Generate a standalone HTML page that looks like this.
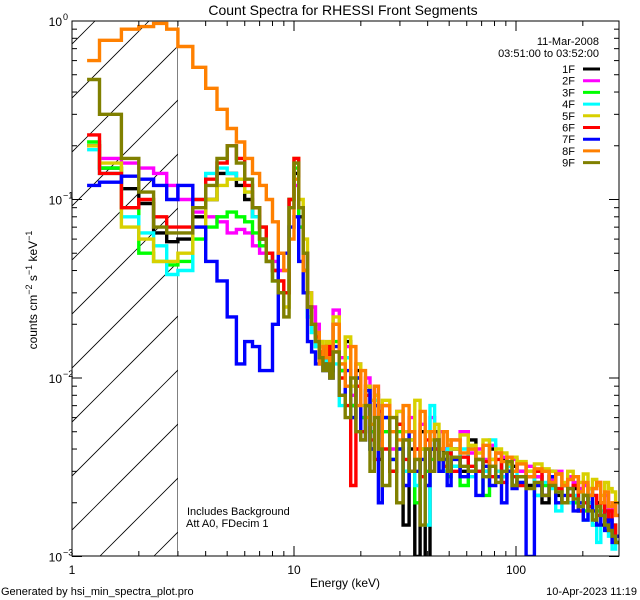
<!DOCTYPE html>
<html><head><meta charset="utf-8"><style>
html,body{margin:0;padding:0;background:#fff;}
svg{display:block;font-family:"Liberation Sans",sans-serif;}
</style></head><body>
<svg id="chart" width="640" height="600" viewBox="0 0 640 600">
<rect x="0" y="0" width="640" height="600" fill="#fff"/>
<text x="343" y="15" font-size="14" text-anchor="middle">Count Spectra for RHESSI Front Segments</text>
<g id="hatch"></g>
<g id="series"></g>
<g id="axes"></g>
<text transform="translate(37,290) rotate(-90)" font-size="12" text-anchor="middle">counts cm<tspan dy="-5" font-size="9">−2</tspan><tspan dy="5"> s</tspan><tspan dy="-5" font-size="9">−1</tspan><tspan dy="5"> keV</tspan><tspan dy="-5" font-size="9">−1</tspan></text>
<text x="345" y="587" font-size="12" text-anchor="middle">Energy (keV)</text>
<text x="599" y="45" font-size="11" text-anchor="end">11-Mar-2008</text>
<text x="599" y="57" font-size="11" text-anchor="end">03:51:00 to 03:52:00</text>
<g id="legend"></g>
<text x="187" y="515" font-size="11">Includes Background</text>
<text x="186" y="527" font-size="11">Att A0, FDecim 1</text>
<text x="1" y="595" font-size="11">Generated by hsi_min_spectra_plot.pro</text>
<text x="637" y="595" font-size="11" text-anchor="end">10-Apr-2023 11:19</text>
</svg>
<script>
// ---- data ----
const lowEdges = [1.17,1.33,1.67,2,2.33,2.67,3];
const seriesNames = ["1F","2F","3F","4F","5F","6F","7F","8F","9F"];
const seriesColors = ["#000000","#ff00ff","#00ff00","#00ffff","#d8d000","#ff0000","#0000ff","#ff8000","#808000"];
const yTickValues = [1,0.1,0.01,0.001];
const yTickLabels = ["0","−1","−2","−3"];
const xTickValues = [1,10,100];
const xTickLabels = ["1","10","100"];
const low1 = [.2,.15,.115,.095,.065,.058];
const mid1 = [.06,.08,.1,.14,.14,.12,.1,.08,.06,.05,.04,.03,.03,.1,.14,.08,.04,.025,.02,.016,.014,.012,.013,.011];
const high1 = [.02,.011,.016,.007,.011,.005,.009,.004,.008,.0035,.006,.003,.0055,.0015,.004,.001,.005,.0009,.004,.005,.0035,.004,.003,.004,.003,.0045,.0035,.003,.004,.0028,.0035,.003,.0032,.003,.0025,.0028,.002,.003,.0022,.0025,.002,.0024,.0018,.0022,.002,.0016,.002,.0015,.0018,.0014,.0013,.0012];
const low2 = [.2,.17,.16,.15,.14,.12];
const mid2 = [.1,.085,.08,.075,.065,.068,.065,.055,.05,.045,.045,.04,.04,.09,.12,.07,.05,.03,.025,.02,.016,.015,.013,.014];
const high2 = [.024,.013,.015,.008,.012,.006,.01,.005,.009,.005,.007,.004,.0065,.0045,.006,.004,.0055,.004,.006,.0045,.005,.004,.0042,.0045,.005,.0038,.004,.0035,.0042,.0038,.0036,.0033,.0035,.003,.0032,.0028,.003,.0027,.003,.0025,.0028,.0026,.0024,.0025,.0022,.0024,.0026,.002,.0022,.0018,.0019,.0017];
const low3 = [.21,.15,.09,.05,.045,.043];
const mid3 = [.045,.06,.07,.08,.085,.08,.075,.065,.055,.045,.035,.03,.03,.1,.15,.07,.04,.022,.018,.015,.014,.012,.013,.011];
const high3 = [.016,.011,.013,.007,.01,.006,.007,.005,.007,.0045,.005,.0035,.005,.003,.0045,.002,.004,.003,.0035,.004,.003,.0035,.0028,.0032,.0025,.004,.003,.0022,.0035,.003,.0028,.0032,.0025,.0028,.003,.0022,.0025,.0028,.002,.0025,.0022,.002,.0023,.0018,.0024,.0015,.0018,.002,.0016,.0014,.0015,.0012];
const low4 = [.19,.14,.08,.065,.055,.038];
const mid4 = [.04,.1,.14,.15,.14,.13,.11,.08,.07,.05,.04,.03,.03,.1,.16,.09,.05,.022,.018,.015,.013,.012,.014,.012];
const high4 = [.012,.007,.013,.006,.009,.005,.0085,.004,.0075,.0045,.006,.0035,.004,.003,.0045,.0025,.004,.0015,.007,.004,.0035,.003,.004,.0032,.004,.0028,.0035,.003,.0045,.003,.0028,.0032,.003,.0026,.0028,.0022,.0026,.0024,.0018,.0025,.002,.0022,.0018,.0016,.002,.0015,.0012,.0018,.0014,.0013,.0011,.0012];
const low5 = [.2,.16,.07,.06,.045,.045];
const mid5 = [.05,.07,.1,.12,.13,.13,.11,.09,.07,.05,.04,.035,.025,.1,.17,.1,.06,.03,.02,.018,.016,.015,.016,.014];
const high5 = [.022,.012,.017,.009,.012,.007,.009,.0075,.008,.006,.0075,.006,.0065,.005,.0045,.0075,.004,.005,.0045,.0055,.004,.005,.0045,.004,.0048,.0042,.0038,.0045,.0035,.004,.0038,.0033,.0036,.0034,.003,.0033,.0031,.003,.0029,.0026,.003,.0028,.0026,.0029,.0024,.0027,.0025,.0022,.0026,.0024,.0023,.002];
const low6 = [.23,.14,.09,.1,.08,.07];
const mid6 = [.07,.1,.13,.16,.2,.17,.12,.09,.07,.05,.04,.035,.03,.1,.17,.09,.05,.025,.02,.017,.014,.013,.015,.012];
const high6 = [.014,.01,.007,.0025,.009,.005,.008,.0045,.0035,.0065,.004,.003,.0055,.0035,.003,.004,.0028,.0045,.003,.004,.0035,.0032,.0038,.003,.0036,.0032,.003,.0034,.0028,.0035,.0026,.003,.0028,.0025,.0028,.003,.0022,.0026,.0024,.002,.0022,.0025,.0018,.002,.0019,.0022,.0017,.002,.0016,.0018,.0015,.0013];
const low7 = [.12,.125,.135,.13,.12,.1];
const mid7 = [.12,.07,.045,.035,.022,.012,.016,.015,.011,.011,.02,.05,.05,.07,.08,.045,.03,.016,.014,.012,.012,.011,.012,.01];
const high7 = [.015,.008,.011,.006,.01,.0045,.0085,.004,.007,.002,.006,.0035,.004,.0025,.005,.003,.0035,.0025,.004,.0045,.003,.0035,.0025,.0035,.0028,.003,.0022,.0032,.0025,.0028,.002,.003,.0024,.0026,.001,.0025,.0022,.0028,.002,.0022,.0024,.0018,.002,.0016,.0022,.0018,.0015,.0017,.0014,.0016,.0012,.0013];
const low8 = [.6,.78,.9,.93,.97,.9];
const mid8 = [.72,.55,.42,.32,.25,.21,.17,.14,.12,.1,.075,.05,.04,.06,.13,.09,.04,.025,.02,.018,.012,.015,.013,.012];
const high8 = [.02,.012,.009,.015,.007,.011,.006,.0055,.009,.004,.007,.005,.0045,.007,.005,.0035,.0065,.004,.005,.0045,.004,.005,.0042,.0045,.0038,.004,.0035,.0042,.0032,.0038,.0034,.0036,.003,.0033,.0028,.0031,.003,.0026,.0029,.0025,.0027,.0028,.0023,.0026,.0022,.0024,.0026,.002,.0023,.0019,.002,.0017];
const low9 = [.47,.3,.17,.11,.07,.065];
const mid9 = [.065,.09,.12,.17,.2,.16,.13,.09,.06,.045,.035,.03,.022,.09,.16,.09,.05,.025,.02,.016,.013,.011,.012,.01];
const high9 = [.014,.008,.006,.01,.005,.0045,.007,.003,.006,.004,.0025,.006,.002,.0045,.003,.0035,.0015,.004,.003,.0045,.0035,.0038,.003,.0036,.0032,.003,.0035,.0028,.0032,.0026,.003,.0034,.0025,.0028,.0024,.0026,.0022,.0025,.0023,.002,.0024,.0021,.0019,.0022,.0018,.0016,.0019,.0017,.0015,.0014,.0013,.0012];
const lows = [low1,low2,low3,low4,low5,low6,low7,low8,low9];
const mids = [mid1,mid2,mid3,mid4,mid5,mid6,mid7,mid8,mid9];
const highs = [high1,high2,high3,high4,high5,high6,high7,high8,high9];

// ---- geometry ----
const NS="http://www.w3.org/2000/svg";
const L=72,R=619,T=21,B=556;
const xDec=222, yDec=178.5;
function xs(e){return L+xDec*Math.log10(e);}
function ys(v){return T-yDec*Math.log10(v);}
function mk(tag,attrs,parent){const el=document.createElementNS(NS,tag);for(const k in attrs)el.setAttribute(k,attrs[k]);parent.appendChild(el);return el;}

const edges = lowEdges.slice();
for(let e=3.5;e<=15.001;e+=0.5) edges.push(+e.toFixed(2));
for(let e=16;e<=25;e+=1) edges.push(e);
for(let e=27;e<=51;e+=2) edges.push(e);
for(let e=56;e<=101;e+=5) edges.push(e);
for(let e=111;e<=291;e+=10) edges.push(e);

const svg=document.getElementById('chart');
const defs=mk('defs',{},svg);
const cp=mk('clipPath',{id:'plotclip'},defs);
mk('rect',{x:L,y:T,width:R-L,height:B-T},cp);
const hc=mk('clipPath',{id:'hatchclip'},defs);
mk('rect',{x:L,y:T,width:xs(3)-L,height:B-T},hc);

const hatch=document.getElementById('hatch');
hatch.setAttribute('clip-path','url(#hatchclip)');
for(let x0=100-54*12;x0<300;x0+=54){
  const ln=mk('line',{x1:x0,y1:B,x2:x0+(B-T),y2:T,stroke:'#000','stroke-width':0.8},hatch);
  
  
}
const vline=mk('line',{x1:xs(3),y1:T,x2:xs(3),y2:B,stroke:'#000','stroke-width':1},hatch);



const sg=document.getElementById('series');
sg.setAttribute('clip-path','url(#plotclip)');
for(let s=0;s<9;s++){
  const vals=lows[s].concat(mids[s],highs[s]);
  const n=Math.min(vals.length,edges.length-1);
  let d='';
  for(let i=0;i<n;i++){
    const y=ys(Math.max(vals[i],0.0008));
    d+=(i===0?'M':'L')+xs(edges[i]).toFixed(1)+','+y.toFixed(1)+'L'+xs(edges[i+1]).toFixed(1)+','+y.toFixed(1);
  }
  const p=mk('path',{d:d,fill:'none',stroke:seriesColors[s],'stroke-width':3.4,'stroke-linejoin':'miter'},sg);
  
  
}

const ax=document.getElementById('axes');
const frame=mk('rect',{x:L,y:T,width:R-L,height:B-T,fill:'none',stroke:'#000','stroke-width':1},ax);


for(let dec=0;dec<3;dec++){
  for(let m=1;m<10;m++){
    const e=m*Math.pow(10,dec);
    const x=xs(e); if(x>R) continue;
    const len=m===1?10:5;
    mk('line',{x1:x,y1:B,x2:x,y2:B-len,stroke:'#000'},ax);
    mk('line',{x1:x,y1:T,x2:x,y2:T+len,stroke:'#000'},ax);
  }
}
xTickValues.forEach((v,i)=>{
  const t=mk('text',{x:xs(v),y:574,'font-size':12,'text-anchor':'middle'},ax);
  t.textContent=xTickLabels[i];
  
  
});
for(let dec=-3;dec<0;dec++){
  for(let m=1;m<10;m++){
    const v=m*Math.pow(10,dec);
    const y=ys(v);
    const len=m===1?10:5;
    mk('line',{x1:L,y1:y,x2:L+len,y2:y,stroke:'#000'},ax);
    mk('line',{x1:R,y1:y,x2:R-len,y2:y,stroke:'#000'},ax);
  }
}
yTickValues.forEach((v,i)=>{
  const y=ys(v);
  const t=mk('text',{x:62,y:y+5,'font-size':12,'text-anchor':'end'},ax);
  t.textContent='10';
  
  
  const sup=mk('text',{x:63,y:y-1,'font-size':9,'text-anchor':'start'},ax);
  sup.textContent=yTickLabels[i];
  
  
});

const lg=document.getElementById('legend');
seriesNames.forEach((nm,i)=>{
  const y=69+i*11.7;
  const t=mk('text',{x:575,y:y+4,'font-size':11,'text-anchor':'end'},lg);
  t.textContent=nm;
  
  
  const l=mk('line',{x1:583,y1:y,x2:600,y2:y,stroke:seriesColors[i],'stroke-width':3},lg);
  
  
});
</script>
</body></html>
